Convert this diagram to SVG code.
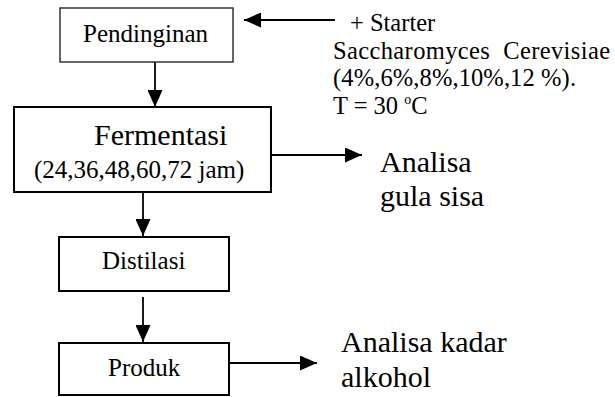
<svg xmlns="http://www.w3.org/2000/svg" width="615" height="397" viewBox="0 0 615 397">
<style>
text{font-family:"Liberation Serif","Times New Roman",serif;fill:#000}
.box{fill:#fff;stroke:#000;stroke-width:2}
.c{stroke:#000;stroke-width:1.8;fill:none}
.s{font-size:24.5px}
</style>
<defs>
<marker id="ah" markerUnits="userSpaceOnUse" markerWidth="17" markerHeight="15" refX="17" refY="7.5" orient="auto">
<path d="M0,0 L17,7.5 L0,15 z" fill="#000"/>
</marker>
</defs>
<rect width="615" height="397" fill="#fff"/>
<g id="connectors">
<line class="c" x1="335" y1="20" x2="244" y2="20" marker-end="url(#ah)"/>
<line class="c" x1="155" y1="62" x2="155" y2="107" marker-end="url(#ah)"/>
<line class="c" x1="271" y1="155" x2="362" y2="155" marker-end="url(#ah)"/>
<line class="c" x1="143" y1="192" x2="143" y2="236" marker-end="url(#ah)"/>
<line class="c" x1="143" y1="297" x2="143" y2="342" marker-end="url(#ah)"/>
<line class="c" x1="229" y1="363" x2="317" y2="363" marker-end="url(#ah)"/>
</g>
<g id="pendinginan">
<rect x="60" y="8" width="173" height="54" fill="#fff" stroke="#333" stroke-width="1.5"/>
<text x="83" y="42" font-size="25">Pendinginan</text>
</g>
<g id="fermentasi">
<rect class="box" x="14" y="107" width="257" height="85"/>
<text x="94" y="145" font-size="30">Fermentasi</text>
<text x="34" y="178" font-size="25">(24,36,48,60,72 jam)</text>
</g>
<g id="distilasi">
<rect class="box" x="59" y="237" width="170" height="54"/>
<text x="102" y="269" font-size="25">Distilasi</text>
</g>
<g id="produk">
<rect class="box" x="59" y="343" width="170" height="52"/>
<text x="108" y="376" font-size="25">Produk</text>
</g>
<g id="starter">
<text class="s" x="350" y="31">+ Starter</text>
<text class="s" x="333" y="59" xml:space="preserve" textLength="277" lengthAdjust="spacing">Saccharomyces  Cerevisiae</text>
<text class="s" x="333" y="86" textLength="243" lengthAdjust="spacing">(4%,6%,8%,10%,12 %).</text>
<text class="s" x="333" y="114">T = 30 <tspan dy="-10" font-size="14">o</tspan><tspan dy="10">C</tspan></text>
</g>
<g id="analisa-gula">
<text x="380" y="172" font-size="30">Analisa</text>
<text x="380" y="206" font-size="30">gula sisa</text>
</g>
<g id="analisa-alkohol">
<text x="341" y="352" font-size="30">Analisa kadar</text>
<text x="341" y="387" font-size="30">alkohol</text>
</g>
</svg>
